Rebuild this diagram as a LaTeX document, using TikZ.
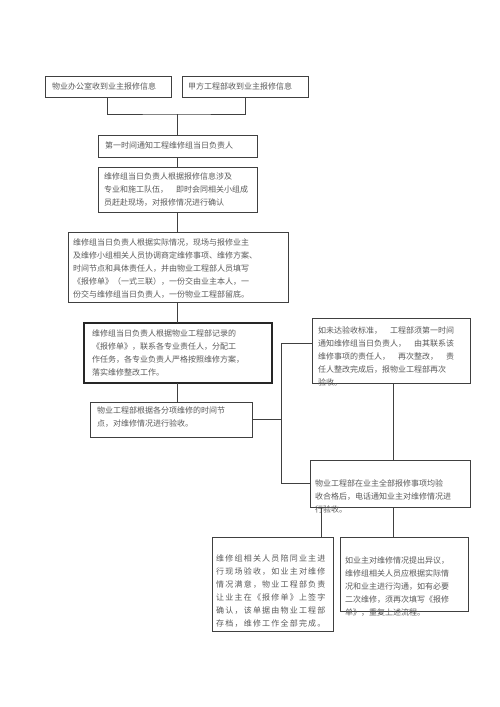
\documentclass[tikz,border=0pt]{standalone}
\usepackage{fontspec}
\setmainfont{Noto Sans CJK SC}
\newfontfamily\cjkwide[LetterSpace=15]{Noto Sans CJK SC}
\begin{document}
\begin{tikzpicture}[x=1pt,y=-1pt,
 box/.style={draw=black!75, line width=0.8pt, inner sep=0pt, outer sep=0pt, anchor=north west},
 txt/.style={anchor=north west, inner sep=0pt, align=left, font=\fontsize{8}{13}\selectfont, text=black!65},
 link/.style={draw=black!75, line width=0.8pt}]
\useasboundingbox (0,0) rectangle (500,707);
% boxes
\node[box, minimum width=126pt, minimum height=21pt] (b1) at (45,76) {};
\node[box, minimum width=126pt, minimum height=21pt] (b2) at (182,76) {};
\node[box, minimum width=159pt, minimum height=22pt] (b3) at (98,135) {};
\node[box, minimum width=159pt, minimum height=45pt] (b4) at (98,167) {};
\node[box, minimum width=220pt, minimum height=70pt] (b5) at (68,232) {};
\node[box, minimum width=188pt, minimum height=60pt, line width=1.2pt, draw=black!85] (b6) at (84,323) {};
\node[box, minimum width=162pt, minimum height=35pt] (b7) at (90,402) {};
\node[box, minimum width=158pt, minimum height=65pt] (b8) at (312,318) {};
\node[box, minimum width=160pt, minimum height=47pt] (b9) at (310,460) {};
\node[box, minimum width=121pt, minimum height=94pt] (b10) at (212,537) {};
\node[box, minimum width=128pt, minimum height=74pt] (b11) at (340,537) {};
% texts
\node[txt] (t1) at (52,82) {物业办公室收到业主报修信息};
\node[txt] (t2) at (188,82) {甲方工程部收到业主报修信息};
\node[txt] (t3) at (105,142) {第一时间通知工程维修组当日负责人};
\node[txt] (t4) at (104,172) {维修组当日负责人根据报修信息涉及\\专业和施工队伍，　即时会同相关小组成\\员赶赴现场，对报修情况进行确认};
\node[txt] (t5) at (73,239) {维修组当日负责人根据实际情况，现场与报修业主\\及维修小组相关人员协调商定维修事项、维修方案、\\时间节点和具体责任人，并由物业工程部人员填写\\《报修单》（一式三联），一份交由业主本人，一\\份交与维修组当日负责人，一份物业工程部留底。};
\node[txt] (t6) at (92,330) {维修组当日负责人根据物业工程部记录的\\《报修单》，联系各专业责任人，分配工\\作任务，各专业负责人严格按照维修方案，\\落实维修整改工作。};
\node[txt] (t7) at (97,407) {物业工程部根据各分项维修的时间节\\点，对维修情况进行验收。};
\node[txt] (t8) at (318,327) {如未达验收标准，　工程部须第一时间\\通知维修组当日负责人，　由其联系该\\维修事项的责任人，　再次整改，　责\\任人整改完成后，报物业工程部再次\\验收。};
\node[txt] (t9) at (315,479) {物业工程部在业主全部报修事项均验\\收合格后，电话通知业主对维修情况进\\行验收。};
\node[txt, font=\cjkwide\fontsize{8}{13}\selectfont] (t10) at (216,555) {维修组相关人员陪同业主进\\行现场验收，如业主对维修\\情况满意，物业工程部负责\\让业主在《报修单》上签字\\确认，该单据由物业工程部\\存档，维修工作全部完成。};
\node[txt] (t11) at (345,557) {如业主对维修情况提出异议，\\维修组相关人员应根据实际情\\况和业主进行沟通，如有必要\\二次维修，须再次填写《报修\\单》，重复上述流程。};
% connectors
\coordinate (j1) at (177,114);
\coordinate (s1) at (107,97);
\coordinate (s2) at (245,97);
\draw[link] (s1) |- (j1) -| (s2);
\draw[link] (j1) -- (j1 |- b3.north);
\draw[link] (j1 |- b3.south) -- (j1 |- b4.north);
\draw[link] (j1 |- b4.south) -- (j1 |- b5.north);
\draw[link] (j1 |- b5.south) -- (j1 |- b6.north);
\draw[link] (j1 |- b6.south) -- (j1 |- b7.north);
\coordinate (v) at (281,343);
\draw[link] (b7.east) -- (b7.east -| v);
\draw[link] (b8.west |- v) -| (v |- b9.west) -- (b9.west);
\coordinate (c8) at (393,383);
\draw[link] (c8) -- (c8 |- b9.north);
\draw[link] (c8 |- b9.south) -- (c8 |- b11.north);
\coordinate (c10) at (321,507);
\draw[link] (c10) -- (c10 |- b10.north);
\end{tikzpicture}
\end{document}
